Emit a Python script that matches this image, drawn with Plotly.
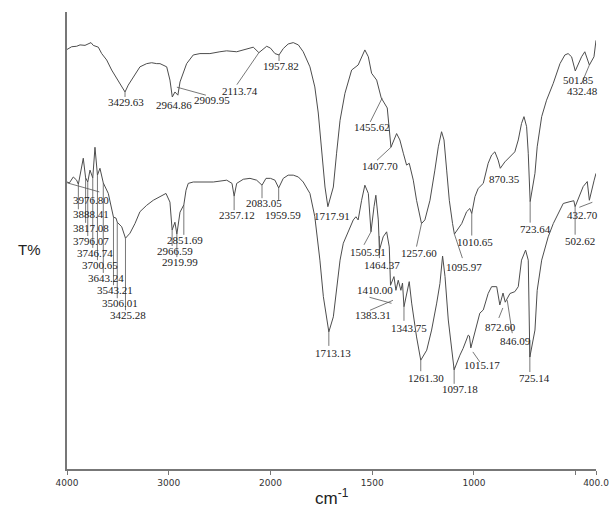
import numpy as np
import plotly.graph_objects as go

# ---- spectra (wavenumber in cm-1, transmittance in arbitrary %) ----
upper_wn = [4000, 3954, 3905, 3872, 3823, 3764, 3742, 3692, 3659, 3610, 3561, 3512, 3469, 3429.63,
            3398, 3348, 3283, 3217, 3168, 3118, 3086, 3020, 2988, 2964.86, 2939, 2909.95, 2889, 2824,
            2759, 2693, 2595, 2497, 2431, 2332, 2234, 2169, 2113.74, 2037, 2000, 1978, 1957.82, 1937,
            1913, 1888, 1863, 1839, 1806, 1782, 1765, 1748, 1732, 1717.91, 1691, 1675, 1658, 1634,
            1601, 1569, 1536, 1519, 1503, 1478, 1455.62, 1426, 1407.70, 1380, 1364, 1347, 1331, 1318,
            1298, 1282, 1257.60, 1241, 1216, 1192, 1175, 1159, 1147, 1134, 1121, 1105, 1095.97, 1060,
            1036, 1020, 1010.65, 995, 979, 954, 930, 913, 897, 881, 870.35, 848, 823, 799, 782, 766,
            754, 741, 733, 723.64, 700, 689, 667, 643, 610, 577, 553, 537, 520, 501.85, 471, 455,
            432.48, 410, 400]
upper_t = [91.8, 92.4, 92.5, 92.8, 92.7, 93.3, 92.7, 92.3, 90.9, 89.5, 87.3, 85.5, 83.8, 82.5,
           84.0, 85.8, 88.0, 88.7, 88.9, 88.7, 88.7, 88.0, 85.1, 81.4, 82.5, 81.8, 84.7, 88.7,
           90.6, 90.9, 90.9, 91.3, 91.5, 91.3, 91.8, 92.3, 91.1, 92.5, 92.1, 90.9, 90.6, 92.0,
           93.0, 93.3, 92.8, 91.3, 88.0, 83.6, 77.9, 69.1, 61.7, 57.4, 61.7, 69.1, 76.3, 82.2,
           87.3, 88.4, 91.7, 90.2, 86.6, 85.1, 81.2, 79.0, 70.4, 73.4, 72.0, 69.1, 66.5, 66.9,
           63.2, 58.8, 53.7, 54.5, 58.8, 65.4, 70.5, 73.8, 72.0, 65.4, 58.8, 53.7, 51.4, 53.7,
           56.3, 57.0, 55.9, 59.6, 61.4, 62.5, 66.9, 68.7, 69.4, 67.6, 65.8, 67.2, 68.3, 69.4, 72.0, 75.6,
           77.1, 74.9, 69.1, 58.5, 64.7, 70.5, 77.1, 80.7, 84.4, 88.7, 90.6, 90.9, 90.2, 87.1, 90.2, 91.3,
           88.4, 90.2, 93.8]

lower_wn = [4000, 3976.80, 3938, 3905, 3888.41, 3872, 3840, 3817.08, 3796.07, 3774, 3746.74, 3725,
            3700.65, 3676, 3643.24, 3594, 3568, 3543.21, 3518, 3506.01, 3462, 3425.28, 3381, 3332,
            3283, 3217, 3152, 3086, 3027, 2988, 2966.59, 2939, 2919.99, 2889, 2851.69, 2830, 2808,
            2759, 2660, 2562, 2430, 2378, 2357.12, 2332, 2267, 2201, 2136, 2083.05, 2044, 2000, 1978,
            1959.59, 1937, 1913, 1888, 1863, 1839, 1806, 1782, 1757, 1740, 1724, 1713.13, 1691, 1675,
            1658, 1642, 1618, 1593, 1580, 1569, 1552, 1536, 1519, 1505.91, 1491, 1482, 1470, 1464.37,
            1446, 1429, 1416, 1410.00, 1393, 1383.31, 1372, 1359, 1351, 1343.75, 1318, 1306, 1282,
            1261.30, 1232, 1208, 1183, 1167, 1154, 1142, 1126, 1110, 1097.18, 1069, 1053, 1028, 1022,
            1015.17, 985, 971, 954, 930, 913, 888, 872.60, 857, 846.09, 823, 799, 782, 766, 746, 733,
            731, 725.14, 700, 689, 667, 635, 610, 586, 561, 528, 509, 502.62, 476, 463, 443, 432.70,
            409, 400]
lower_t = [62.8, 62.6, 63.9, 63.2, 62.3, 64.3, 68.0, 63.7, 62.8, 65.4, 63.7, 70.4,
           64.3, 65.8, 62.6, 60.3, 57.7, 55.1, 54.9, 54.0, 53.0, 50.5, 51.6, 53.7,
           56.3, 57.7, 58.8, 59.6, 60.3, 58.4, 52.3, 54.0, 51.4, 56.2, 57.8, 61.0, 62.5,
           62.8, 62.8, 62.8, 63.2, 62.5, 59.7, 62.5, 63.4, 63.6, 63.2, 62.1, 63.6, 63.6, 63.2,
           61.5, 63.6, 64.3, 64.3, 63.9, 62.8, 60.3, 55.2, 45.7, 37.7, 33.3, 30.0, 33.3, 39.1,
           45.7, 49.4, 51.9, 54.5, 55.2, 54.5, 58.8, 62.1, 60.3, 51.9, 57.4, 59.9, 54.5, 47.9,
           50.8, 51.9, 48.6, 40.2, 42.1, 39.1, 41.3, 39.1, 40.7, 35.5, 41.0, 36.3, 28.9,
           23.8, 26.0, 30.4, 36.3, 40.6, 46.6, 42.1, 32.6, 26.0, 21.7, 24.9, 26.4, 29.3, 29.1,
           26.5, 31.9, 34.1, 34.8, 38.4, 39.9, 39.9, 35.9, 38.5, 36.5, 38.4, 38.8, 39.9, 45.7, 47.9, 45.7,
           39.1, 24.5, 30.4, 39.1, 45.7, 50.8, 53.7, 55.9, 58.1, 58.5, 58.7, 57.4, 60.3, 61.8, 62.9, 58.8,
           63.2, 64.7]

# ---- peak labels ----
upper_peaks = [3429.63, 2964.86, 2909.95, 2113.74, 1957.82, 1717.91, 1455.62, 1407.70, 1257.60,
               1095.97, 1010.65, 870.35, 723.64, 501.85, 432.48]
lower_peaks = [3976.80, 3888.41, 3817.08, 3796.07, 3746.74, 3700.65, 3643.24, 3543.21, 3506.01,
               3425.28, 2966.59, 2919.99, 2851.69, 2357.12, 2083.05, 1959.59, 1713.13, 1505.91,
               1464.37, 1410.00, 1383.31, 1343.75, 1261.30, 1097.18, 1015.17, 872.60, 846.09,
               725.14, 502.62, 432.70]

# axis ticks (wavenumber, label); 500 gets an unlabelled tick mark
tick_wn = [4000, 3000, 2000, 1500, 1000, 400]
tick_text = ["4000", "3000", "2000", "1500", "1000", "400.0"]
minor_tick_wn = [500]

# label placement in screen pixels: text offset (dx, dy) and leader segment (x0, y0, x1, y1), y down
upper_place = [
    ((1, 10), (0, 0, 0, 5)),
    ((2, 8), None),
    ((34, 5), (-1, -8, 28, 0)),
    ((-19, 38), (0, 0, -22, 32)),
    ((2, 11), (0, 0, 0, 6)),
    ((4, 9), None),
    ((-9, 29), (1, 0, -11, 24)),
    ((-11, 19), (0, 0, -14, 13)),
    ((-3, 29), (0, 0, -5, 23)),
    ((10, 33), (0, 0, 8, 24)),
    ((3, 28), (0, 0, 0, 22)),
    ((4, 11), None),
    ((5, 27), (0, 0, 0, 21)),
    ((3, 9), None),
    ((-7, 26), (0, 0, -8, 19)),
]
lower_place = [
    ((22, 17), (-2, 0, 30, 9)),
    ((12.6, 30), (0, 0, 0, 25)),
    ((5.4, 50), (0, 0, 0, 45)),
    ((3, 59), (0, 0, 0, 54)),
    ((2, 75), (0, 0, 0, 70)),
    ((2.5, 90), (0, 0, 0, 85)),
    ((3, 95), (0, 0, 0, 90)),
    ((1.5, 73), (0, 0, 0, 68)),
    ((3, 81), (0, 0, 0, 76)),
    ((2.5, 77), (0, 0, 0, 72)),
    ((3, 21), (0, 0, 0, 16)),
    ((3, 28), (0, 0, 0, 23)),
    ((1.5, 35), (0, 0, 0, 30)),
    ((2.5, 19), (0, 0, 0, 14)),
    ((2, 18), (0, 0, 0, 13)),
    ((4, 27), (0, 0, 0, 12)),
    ((4.5, 21), (0, 0, 0, 14)),
    ((-3, 20), (0, 0, -7, 13)),
    ((3, 15), (0, -14, 0, 8)),
    ((-16, 5), (-21, 12, 1, 18)),
    ((-22.5, 25), (-26, 20, -3, 10)),
    ((4.7, 21), (0, 0, 0, 14)),
    ((5, 18), (0, 0, 0, 11)),
    ((6, 19), (0, -3, 0, 14)),
    ((11.6, 17), (2, 4, 9, 14)),
    ((1, 22), (3, 3, -1, 13)),
    ((10.5, 39), (2, -2, 7, 31)),
    ((5, 21), (0, -17, 0, 15)),
    ((4.7, 34), (0, 0, 0, 28)),
    ((-7, 15), (3, 2, -10, 7)),
]


def axis_pos(wn):
    """Split wavenumber scale: 4000-2000 at half the density of 2000-400."""
    wn = np.asarray(wn, dtype=float)
    return np.where(wn > 2000, 2000 + (wn - 2000) / 2.0, wn)


LINE = "#4d4d4d"
fig = go.Figure()
for wn, t in ((upper_wn, upper_t), (lower_wn, lower_t)):
    fig.add_trace(go.Scatter(x=axis_pos(wn), y=t, mode="lines",
                             line=dict(color=LINE, width=1), hoverinfo="skip",
                             showlegend=False))

annotations = []
shapes = []
for peaks, place, wn, t in ((upper_peaks, upper_place, upper_wn, upper_t),
                            (lower_peaks, lower_place, lower_wn, lower_t)):
    wn_arr = np.asarray(wn)[::-1]
    t_arr = np.asarray(t)[::-1]
    for pk, ((dx, dy), lead) in zip(peaks, place):
        xa = float(axis_pos(pk))
        ya = float(np.interp(pk, wn_arr, t_arr))
        annotations.append(dict(x=xa, y=ya, xref="x", yref="y", text=f"{pk:.2f}",
                                showarrow=False, xshift=dx, yshift=-dy,
                                xanchor="center", yanchor="middle",
                                font=dict(family="Liberation Serif", size=11, color="#222")))
        if lead is not None:
            x0, y0, x1, y1 = lead
            shapes.append(dict(type="line", xref="x", yref="y",
                               xsizemode="pixel", xanchor=xa, x0=x0, x1=x1,
                               ysizemode="pixel", yanchor=ya, y0=-y0, y1=-y1,
                               line=dict(color="#555", width=0.8)))

annotations.append(dict(x=-0.07, y=0.48, xref="paper", yref="paper", text="T%",
                        showarrow=False, xanchor="center", yanchor="middle",
                        font=dict(family="Liberation Sans", size=15, color="#222")))
annotations.append(dict(x=0.5, y=-0.062, xref="paper", yref="paper",
                        text="cm<sup>-1</sup>", showarrow=False,
                        xanchor="center", yanchor="middle",
                        font=dict(family="Liberation Sans", size=17, color="#222")))

fig.update_layout(
    width=609, height=509,
    margin=dict(l=67, r=13, t=12, b=40),
    paper_bgcolor="white", plot_bgcolor="white",
    annotations=annotations, shapes=shapes,
    xaxis=dict(range=[3000, 400], tickmode="array",
               tickvals=axis_pos(tick_wn).tolist(), ticktext=tick_text,
               showgrid=False, zeroline=False, showline=True, linecolor="#777",
               linewidth=1.5, ticks="outside", ticklen=4, tickcolor="#777",
               tickfont=dict(family="DejaVu Sans", size=9, color="#333"),
               ticklabeloverflow="allow", automargin=False,
               minor=dict(tickmode="array", tickvals=axis_pos(minor_tick_wn).tolist(),
                          ticks="outside", ticklen=4, tickcolor="#777", showgrid=False)),
    yaxis=dict(range=[0, 100], showgrid=False, zeroline=False, showline=True,
               linecolor="#777", linewidth=1.5, showticklabels=False, ticks="",
               automargin=False),
)

fig.write_html("out.html")
